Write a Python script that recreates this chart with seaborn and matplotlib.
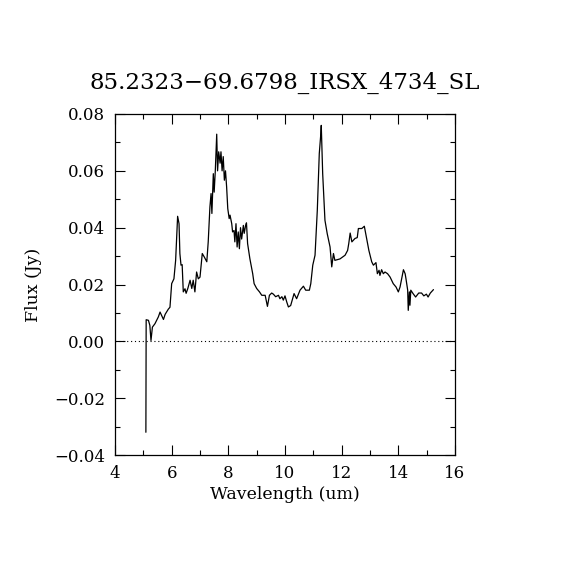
import matplotlib
matplotlib.use("Agg")
import matplotlib.pyplot as plt
from matplotlib.ticker import MultipleLocator
import seaborn as sns
import pandas as pd

title = "85.2323\u221269.6798_IRSX_4734_SL"
xlabel = "Wavelength (um)"
ylabel = "Flux (Jy)"

wavelength = [
    5.09, 5.10, 5.18, 5.23, 5.27, 5.32, 5.41, 5.53, 5.59, 5.65,
    5.71, 5.77, 5.88, 5.94, 6.00, 6.08, 6.14, 6.21, 6.26, 6.29,
    6.33, 6.37, 6.41, 6.47, 6.51, 6.57, 6.65, 6.71, 6.76, 6.82,
    6.88, 6.94, 7.00, 7.08, 7.15, 7.24, 7.29, 7.35, 7.39, 7.42,
    7.47, 7.50, 7.54, 7.59, 7.62, 7.66, 7.71, 7.74, 7.78, 7.82,
    7.86, 7.90, 7.94, 7.98, 8.03, 8.06, 8.12, 8.15, 8.20, 8.23,
    8.27, 8.31, 8.35, 8.39, 8.43, 8.47, 8.53, 8.56, 8.61, 8.64,
    8.68, 8.76, 8.86, 8.91, 9.00, 9.10, 9.18, 9.30, 9.38, 9.45,
    9.53, 9.59, 9.67, 9.77, 9.82, 9.89, 9.94, 10.00, 10.06, 10.12,
    10.20, 10.32, 10.41, 10.53, 10.65, 10.73, 10.86, 10.91, 10.98, 11.06,
    11.14, 11.21, 11.26, 11.28, 11.33, 11.41, 11.49, 11.59, 11.65, 11.71,
    11.76, 11.94, 12.12, 12.21, 12.25, 12.30, 12.36, 12.47, 12.55, 12.59,
    12.71, 12.80, 12.88, 12.96, 13.06, 13.12, 13.21, 13.26, 13.32, 13.35,
    13.41, 13.47, 13.53, 13.62, 13.71, 13.82, 13.92, 14.00, 14.06, 14.18,
    14.24, 14.27, 14.33, 14.35, 14.39, 14.41, 14.44, 14.52, 14.61, 14.72,
    14.82, 14.90, 14.99, 15.05, 15.13, 15.24,
]

flux = [
    -0.032, 0.0076, 0.0074, 0.0056, 0.0003, 0.0050, 0.0062, 0.0086, 0.0103, 0.0090,
    0.0077, 0.0095, 0.0113, 0.0120, 0.0203, 0.0220, 0.0285, 0.0440, 0.0414, 0.0309,
    0.0268, 0.0270, 0.0174, 0.0185, 0.0169, 0.0186, 0.0215, 0.0186, 0.0215, 0.0174,
    0.0244, 0.0220, 0.0226, 0.0309, 0.0297, 0.0280, 0.0350, 0.0473, 0.0520, 0.0450,
    0.0590, 0.0525, 0.0600, 0.0729, 0.0600, 0.0667, 0.0627, 0.0667, 0.0600, 0.0650,
    0.0567, 0.0600, 0.0543, 0.0467, 0.0432, 0.0444, 0.0414, 0.0385, 0.0390, 0.0350,
    0.0414, 0.0332, 0.0385, 0.0326, 0.0400, 0.0360, 0.0408, 0.0380, 0.0408, 0.0417,
    0.0344, 0.0291, 0.0238, 0.0203, 0.0186, 0.0174, 0.0162, 0.0162, 0.0123, 0.0162,
    0.0170, 0.0166, 0.0157, 0.0162, 0.0150, 0.0157, 0.0145, 0.0160, 0.0139, 0.0121,
    0.0126, 0.0168, 0.0150, 0.0180, 0.0194, 0.0180, 0.0180, 0.0203, 0.0268, 0.0303,
    0.0461, 0.0661, 0.0725, 0.0760, 0.0590, 0.0426, 0.0379, 0.0332, 0.0262, 0.0309,
    0.0285, 0.0290, 0.0303, 0.0320, 0.0344, 0.0381, 0.0350, 0.0362, 0.0365, 0.0397,
    0.0397, 0.0405, 0.0362, 0.0320, 0.0280, 0.0268, 0.0277, 0.0238, 0.0250, 0.0232,
    0.0252, 0.0238, 0.0244, 0.0238, 0.0226, 0.0203, 0.0191, 0.0174, 0.0191, 0.0252,
    0.0238, 0.0220, 0.0180, 0.0109, 0.0174, 0.0127, 0.0180, 0.0168, 0.0156, 0.0170,
    0.0170, 0.0160, 0.0166, 0.0156, 0.0170, 0.0182,
]

sns.set_theme(style="ticks")
plt.rcParams["font.family"] = ["DejaVu Serif", "DejaVu Sans"]
plt.rcParams["axes.unicode_minus"] = True

df = pd.DataFrame({"wl": wavelength, "flux": flux})

fig = plt.figure(figsize=(5.7, 5.7), dpi=100)
fig.patch.set_facecolor("white")
ax = fig.add_axes([115 / 570, 115 / 570, 340 / 570, 341 / 570])

sns.lineplot(data=df, x="wl", y="flux", sort=False, estimator=None,
             color="black", linewidth=0.9, ax=ax)
ax.axhline(0, color="black", linestyle=(0, (1, 2.5)), linewidth=0.8)

ax.set_xlim(4, 16)
ax.set_ylim(-0.04, 0.08)
ax.xaxis.set_major_locator(MultipleLocator(2))
ax.xaxis.set_minor_locator(MultipleLocator(1))
ax.yaxis.set_major_locator(MultipleLocator(0.02))
ax.yaxis.set_minor_locator(MultipleLocator(0.01))
ax.yaxis.set_major_formatter(matplotlib.ticker.FuncFormatter(
    lambda v, p: ("\u2212" if v < -1e-9 else "") + f"{abs(v):.2f}"))
ax.tick_params(which="both", direction="in", top=True, right=True,
               colors="black", labelsize=12, width=0.8)
ax.tick_params(which="major", length=7, pad=7)
ax.tick_params(which="minor", length=3.5)
for s in ax.spines.values():
    s.set_color("black")
    s.set_linewidth(0.9)

ax.set_xlabel(xlabel, fontsize=12.5, color="black", labelpad=3)
ax.set_ylabel(ylabel, fontsize=12.5, color="black", labelpad=9)
ax.set_title(title, fontsize=16.5, color="black", pad=18)

fig.savefig("out.png", dpi=100, facecolor="white")
